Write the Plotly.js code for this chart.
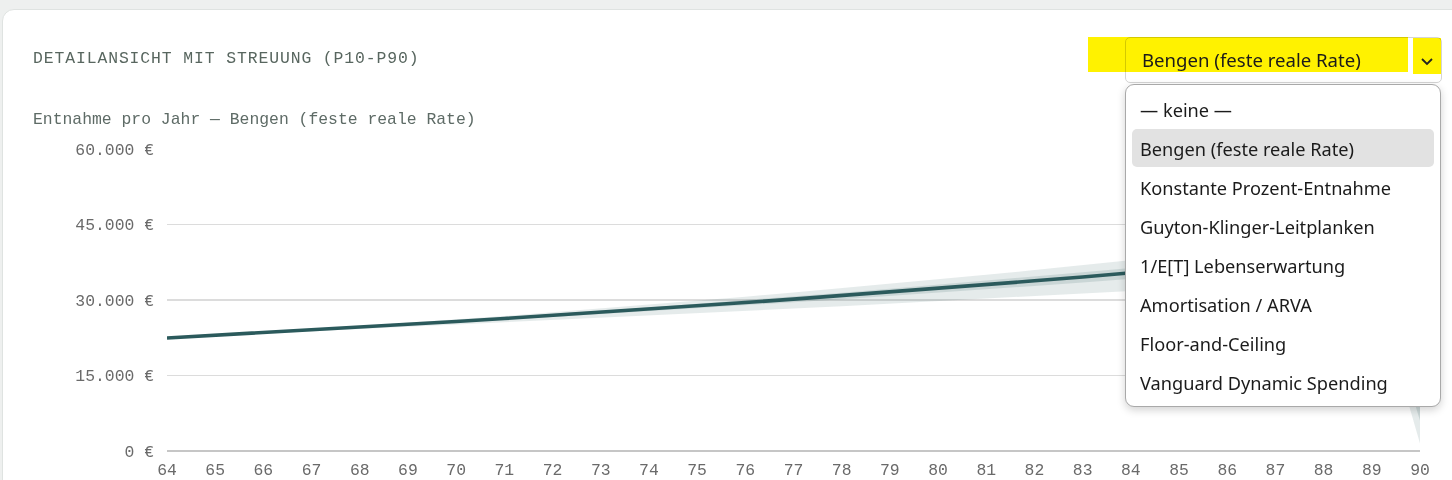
<!DOCTYPE html>
<html>
<head>
<meta charset="utf-8">
<script src="https://cdn.plot.ly/plotly-3.0.1.min.js"></script>
<style>
  html, body { margin:0; padding:0; width:1452px; height:480px; overflow:hidden; background:#eef0ef; }
  #card { position:absolute; left:2px; top:9px; width:1470px; height:500px; background:#fff;
          border:1px solid #dfe3e1; border-radius:12px; box-sizing:border-box; }
  #hdr { position:absolute; left:33px; top:48px; margin:0; font-family:"Liberation Mono", monospace;
         font-size:16.4px; font-weight:normal; letter-spacing:0.9px; color:#58665f; line-height:22px; white-space:nowrap; }
  #chart { position:absolute; left:0; top:0; width:1452px; height:480px; }
  .hl { position:absolute; background:#fff200; mix-blend-mode:multiply; }
  #sel { position:absolute; left:1125px; top:37px; width:317px; height:46px; border:1px solid #d4d4d4;
         border-radius:5px; box-sizing:border-box; background:#fff; }
  #seltxt { position:absolute; left:1142px; top:47px; font-family:"Noto Sans", sans-serif; font-size:18.6px;
            line-height:26px; color:#1b1b1b; white-space:nowrap; }
  #chev { position:absolute; left:1420px; top:56px; }
  #list { position:absolute; left:1125px; top:84px; width:316px; height:323px; background:#fff;
          border:1px solid #a9a9a9; border-radius:9px; box-sizing:border-box;
          box-shadow:0 3px 8px rgba(0,0,0,0.18); }
  .item { position:absolute; left:1140px; font-family:"Noto Sans", sans-serif; font-size:18.2px; line-height:26px;
          color:#1b1b1b; white-space:nowrap; }
  #hov { position:absolute; left:1132px; top:129px; width:302px; height:38px; background:#e2e2e2; border-radius:5px; }
</style>
</head>
<body>
<div id="card"></div>
<h2 id="hdr">DETAILANSICHT MIT STREUUNG (P10-P90)</h2>
<div id="chart"></div>
<div id="sel"></div>
<div class="hl" style="left:1088px;top:37px;width:320px;height:35px;"></div>
<div class="hl" style="left:1413px;top:38px;width:28px;height:36px;"></div>
<div id="seltxt">Bengen (feste reale Rate)</div>
<svg id="chev" width="14" height="12" viewBox="0 0 14 12"><polyline points="2,3 7,8 12,3" fill="none" stroke="#222" stroke-width="1.8"/></svg>
<div id="list"></div>
<div id="hov"></div>
<div id="items"></div>
<script>
// ---- data ----
const ages = [64,65,66,67,68,69,70,71,72,73,74,75,76,77,78,79,80,81,82,83,84,85,86,87,88,89,90];
const median = [22450,22970,23490,24040,24590,25150,25730,26320,26930,27550,28180,28830,29490,30170,30870,31580,32300,33050,33810,34580,35380,36190,37020,37880,38750,39640,40550];
const p90 = [22450,23000,23570,24190,24810,25460,26140,26840,27560,28310,29060,29850,30650,31480,32330,33200,34090,35010,35940,36890,37880,38880,39900,40960,42040,43130,44250];
const p75 = [22450,22980,23520,24100,24680,25270,25890,26530,27180,27850,28530,29240,29950,30690,31450,32230,33020,33830,34660,35500,36380,37270,38170,39110,40070,41040,42030];
const p25 = [22450,22955,23450,23970,24485,25000,25535,26070,26630,27185,27760,28340,28935,29540,30170,30800,31440,32110,32790,33470,34180,34900,35640,36400,37170,37965,6000];
const p10 = [22450,22925,23375,23825,24275,24705,25145,25575,26030,26465,26920,27370,27830,28295,28780,29265,29740,30250,30765,31280,31805,32345,32900,33475,34045,34650,1500];
const yTicks = [0,15000,30000,45000,60000];
const yTickLabels = ["0 €","15.000 €","30.000 €","45.000 €","60.000 €"];
const xTickLabels = ages.map(String);
const strategies = ["— keine —","Bengen (feste reale Rate)","Konstante Prozent-Entnahme","Guyton-Klinger-Leitplanken","1/E[T] Lebenserwartung","Amortisation / ARVA","Floor-and-Ceiling","Vanguard Dynamic Spending"];
const chartTitle = "Entnahme pro Jahr — Bengen (feste reale Rate)";

// ---- dropdown items ----
const holder = document.getElementById('items');
strategies.forEach((s,i)=>{
  const d = document.createElement('div');
  d.className='item';
  d.style.top = (97 + i*39) + 'px';
  d.textContent = s;
  holder.appendChild(d);
});

// ---- chart ----
const mono = '"Liberation Mono", monospace';
const band = 'rgba(43,90,92,0.12)';
const bandIn = 'rgba(43,90,92,0.14)';
const traces = [
  {x:ages, y:p10, type:'scatter', mode:'lines', line:{width:0, color:band}, hoverinfo:'skip', showlegend:false},
  {x:ages, y:p90, type:'scatter', mode:'lines', line:{width:0, color:band}, fill:'tonexty', fillcolor:band, hoverinfo:'skip', showlegend:false},
  {x:ages, y:p25, type:'scatter', mode:'lines', line:{width:0, color:bandIn}, hoverinfo:'skip', showlegend:false},
  {x:ages, y:p75, type:'scatter', mode:'lines', line:{width:0, color:bandIn}, fill:'tonexty', fillcolor:bandIn, hoverinfo:'skip', showlegend:false},
  {x:ages, y:median, type:'scatter', mode:'lines', line:{width:3.6, color:'#2b5a5c'}, showlegend:false}
];
const layout = {
  width:1452, height:480,
  margin:{l:167, r:32, t:149, b:29, pad:0},
  paper_bgcolor:'rgba(0,0,0,0)', plot_bgcolor:'rgba(0,0,0,0)',
  showlegend:false,
  title:{text:chartTitle, xref:'container', yref:'container', x:33/1452, xanchor:'left', y:1-118/480, yanchor:'middle',
         font:{family:mono, size:16.4, color:'#5e6b66'}},
  xaxis:{range:[64,90], tickvals:ages, ticktext:xTickLabels, showgrid:false, zeroline:false, showline:false,
         ticks:'', tickfont:{family:mono, size:16.4, color:'#6a6a6a'}, fixedrange:true, automargin:false, ticklabelstandoff:7},
  yaxis:{range:[0,60000], tickvals:yTicks, ticktext:yTickLabels, showgrid:true, gridcolor:'#dcdcdc', gridwidth:1.4,
         zeroline:true, zerolinecolor:'#c6c6c6', zerolinewidth:2, showline:false, ticks:'',
         tickfont:{family:mono, size:16.4, color:'#6a6a6a'}, fixedrange:true, automargin:false, ticklabelstandoff:12},
  hovermode:false
};
Plotly.newPlot('chart', traces, layout, {displayModeBar:false, staticPlot:true});
</script>
</body>
</html>
